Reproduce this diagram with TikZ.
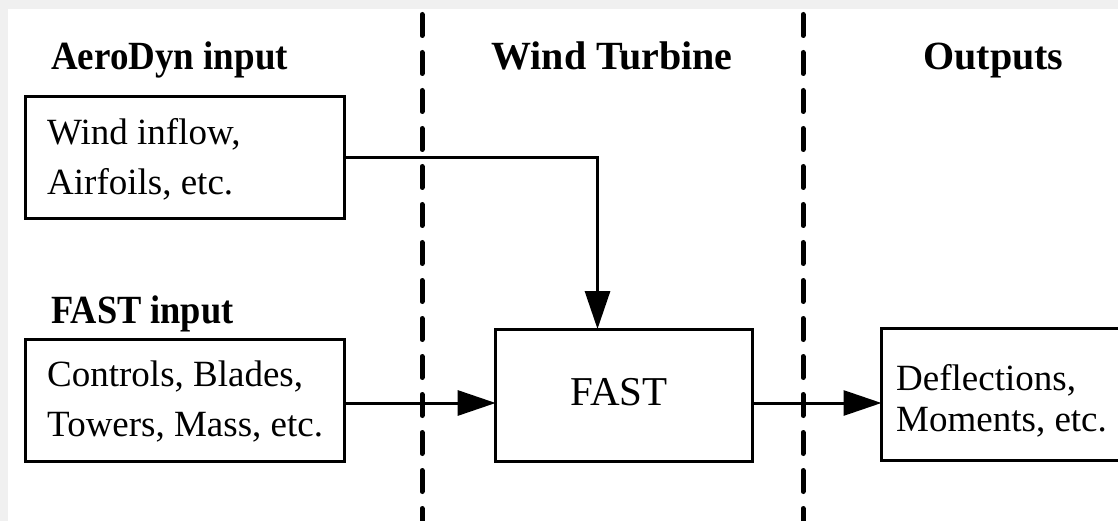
\documentclass[tikz,border=0pt]{standalone}
\usepackage{fontspec}
\setmainfont{Liberation Serif}
\usetikzlibrary{arrows.meta}
\begin{document}
\begin{tikzpicture}[x=1pt,y=-1pt,
  boxnode/.style={draw=black, line width=3pt, inner sep=0pt, outer sep=0pt, rectangle},
  bodytext/.style={anchor=base west, inner sep=0pt, font=\fontsize{37}{44}\selectfont},
  headtext/.style={anchor=base, inner sep=0pt, font=\fontsize{40}{48}\selectfont\bfseries},
  arr/.style={line width=3pt, -{Triangle[length=38pt,width=25pt]}},
  divider/.style={line width=5pt, line cap=round, dash pattern=on 21pt off 17pt}
]
\useasboundingbox (0,0) rectangle (1118,521);
\clip (0,0) rectangle (1118,521);
\fill[gray!12] (0,0) rectangle (1118,521);
\fill[white] (8,9) rectangle (1118,521);

% dividers
\coordinate (d1top) at (422,14.5);
\coordinate (d1bot) at (422,530);
\coordinate (d2top) at (803,14.5);
\coordinate (d2bot) at (803,530);
\draw[divider] (d1top) -- (d1bot);
\draw[divider] (d2top) -- (d2bot);

% headings
\node[headtext, anchor=base west] (hA) at (51,70) {\scalebox{0.925}[1]{AeroDyn input}};
\node[headtext] (hW) at (612,70) {Wind Turbine};
\node[headtext] (hO) at (993.5,70) {Outputs};
\node[headtext, anchor=base west] (hF) at (51,323) {\scalebox{0.91}[1]{FAST input}};

% boxes
\node[boxnode, minimum width=318.7pt, minimum height=121.7pt] (aero) at (184.7,157.2) {};
\node[boxnode, minimum width=318.7pt, minimum height=121.6pt] (fastin) at (184.7,400.5) {};
\node[boxnode, minimum width=257.3pt, minimum height=132.3pt] (fast) at (624.3,395.2) {};
\node[boxnode, minimum width=260pt, minimum height=131.7pt] (out) at (1011.5,394.8) {};

% box texts
\node[bodytext] (t1) at (47,145) {Wind inflow,};
\node[bodytext] (t2) at (47,195) {Airfoils, etc.};
\node[bodytext] (t3) at (47,386.7) {Controls, Blades,};
\node[bodytext] (t4) at (47,436.7) {Towers, Mass, etc.};
\node[inner sep=0pt, anchor=base, font=\fontsize{41}{48}\selectfont] (tF) at (619,405) {FAST};
\node[bodytext] (t5) at (896,390) {Deflections,};
\node[bodytext] (t6) at (896,431.7) {Moments, etc.};

% connectors
\draw[arr] (aero.east) -| ([xshift=-26.8pt]fast.north);
\draw[arr] (fastin.east |- 0,403) -- (fast.west |- 0,403);
\draw[arr] (fast.east |- 0,403) -- (out.west |- 0,403);
\end{tikzpicture}
\end{document}
